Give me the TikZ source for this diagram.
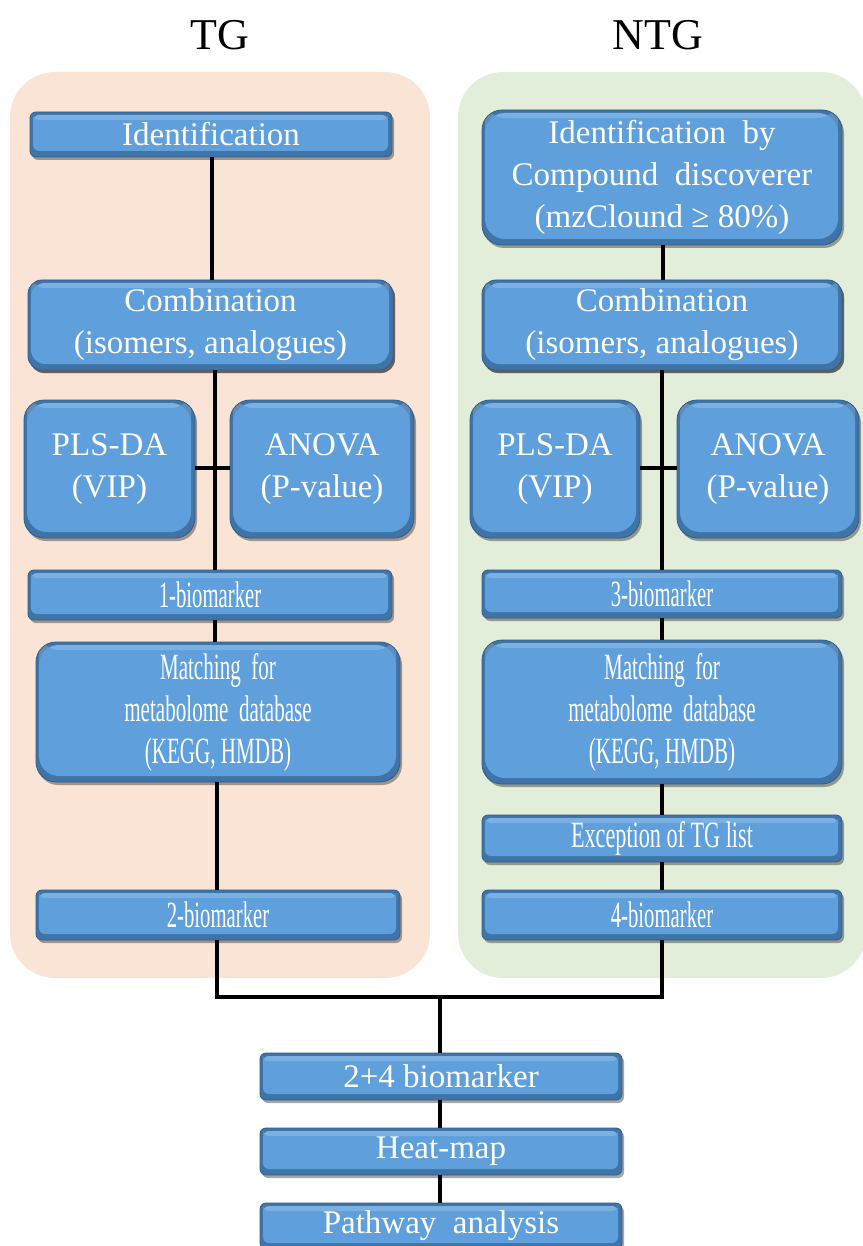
\documentclass[tikz,border=0pt]{standalone}
\usepackage{fontspec}
\setmainfont{Liberation Serif}
\usetikzlibrary{shadows}
\definecolor{peach}{HTML}{FAE4D6}
\definecolor{sage}{HTML}{E3EEDA}
\definecolor{boxblue}{HTML}{5FA0DC}
\definecolor{boxedge}{HTML}{3E74A8}
% condensed lettering used in several boxes
\newcommand{\squeeze}[2][0.56]{{\fontsize{37}{42}\selectfont\scalebox{#1}[1]{#2}}}
\tikzset{
  bevel/.style={
    rounded corners=#1, fill=boxedge, draw=boxedge!80!black, line width=0.8pt,
    drop shadow={shadow xshift=2pt, shadow yshift=-3pt, fill=black, opacity=0.35},
    text=white, align=center, inner sep=0pt,
    font=\fontsize{33}{42}\selectfont,
    path picture={
      \fill[boxblue, rounded corners=#1]
        ([shift={(3pt,-3pt)}]path picture bounding box.north west) rectangle
        ([shift={(-4pt,6pt)}]path picture bounding box.south east);
      \fill[white, opacity=0.18, rounded corners=#1]
        ([shift={(3pt,-3pt)}]path picture bounding box.north west) rectangle
        ([shift={(-4pt,-8pt)}]path picture bounding box.north east);
    }},
  bar/.style={bevel=6pt},
  block/.style={bevel=20pt},
  link/.style={line width=4.6pt, black},
  panel/.style={rounded corners=45pt, draw=none},
  heading/.style={font=\fontsize{44}{50}\selectfont, text=black}
}
\begin{document}
\begin{tikzpicture}[x=1pt, y=-1pt]
\useasboundingbox (0,0) rectangle (862,1246);

% group panels
\fill[peach, panel] (10,72) rectangle (430,978);
\fill[sage, panel] (458,72) rectangle (866,978);

\node[heading] (tg) at (220,35) {TG};
\node[heading] (ntg) at (658,35) {NTG};

% TG branch
\node[bar, minimum width=362pt, minimum height=45pt] (lid) at (211,134.5) {Identification};
\node[block, bevel=14pt, minimum width=365pt, minimum height=90pt] (lcomb) at (210.5,325) {Combination\\(isomers, analogues)};
\node[block, minimum width=171pt, minimum height=138pt] (lpls) at (109.5,469) {PLS-DA\\(VIP)};
\node[block, minimum width=184pt, minimum height=138pt] (lanova) at (322,469) {ANOVA\\(P-value)};
\node[bar, minimum width=364pt, minimum height=50pt] (lb1) at (210,595) {\squeeze{1-biomarker}};
\node[block, minimum width=364pt, minimum height=140pt] (lmatch) at (218,712) {\squeeze[0.57]{Matching\ \ for}\\\squeeze[0.57]{metabolome\ \ database}\\\squeeze[0.57]{(KEGG,\ HMDB)}};
\node[bar, minimum width=364pt, minimum height=50pt] (lb2) at (218,915) {\squeeze{2-biomarker}};

% NTG branch
\node[block, minimum width=360pt, minimum height=135pt] (rid) at (662,177.5) {Identification\ \ by\\Compound\ \ discoverer\\(mzClound ≥ 80\%)};
\node[block, bevel=14pt, minimum width=360pt, minimum height=90pt] (rcomb) at (662,325) {Combination\\(isomers, analogues)};
\node[block, minimum width=170pt, minimum height=138pt] (rpls) at (555,469) {PLS-DA\\(VIP)};
\node[block, minimum width=182pt, minimum height=138pt] (ranova) at (768,469) {ANOVA\\(P-value)};
\node[bar, minimum width=360pt, minimum height=48pt] (rb3) at (662,594) {\squeeze{3-biomarker}};
\node[block, minimum width=360pt, minimum height=144pt] (rmatch) at (662,712) {\squeeze[0.57]{Matching\ \ for}\\\squeeze[0.57]{metabolome\ \ database}\\\squeeze[0.57]{(KEGG,\ HMDB)}};
\node[bar, minimum width=360pt, minimum height=47pt] (rexc) at (662,838.5) {\squeeze[0.6]{Exception of TG list}};
\node[bar, minimum width=360pt, minimum height=50pt] (rb4) at (662,915) {\squeeze{4-biomarker}};

% merged steps
\node[bar, minimum width=362pt, minimum height=47pt] (b24) at (441,1076.5) {2+4 biomarker};
\node[bar, minimum width=362pt, minimum height=47pt] (heat) at (441,1151.5) {Heat-map};
\node[bar, minimum width=362pt, minimum height=46pt] (path) at (441,1226) {Pathway\ \ analysis};

% connectors, TG
\draw[link] (lid.south -| 212,0) -- (lcomb.north -| 212,0);
\draw[link] (lcomb.south -| 215,0) -- (lb1.north -| 215,0);
\draw[link] (lpls.east |- 0,468) -- (lanova.west |- 0,468);
\draw[link] (lb1.south -| 215,0) -- (lmatch.north -| 215,0);
\draw[link] (lmatch.south -| 217,0) -- (lb2.north -| 217,0);

% connectors, NTG
\draw[link] (rid.south -| 663,0) -- (rcomb.north -| 663,0);
\draw[link] (rcomb.south -| 662,0) -- (rb3.north -| 662,0);
\draw[link] (rpls.east |- 0,468) -- (ranova.west |- 0,468);
\draw[link] (rb3.south -| 662,0) -- (rmatch.north -| 662,0);
\draw[link] (rmatch.south -| 662,0) -- (rexc.north -| 662,0);
\draw[link] (rexc.south -| 662,0) -- (rb4.north -| 662,0);

% merge
\coordinate (join) at (440,997);
\draw[link] (lb2.south -| 217,0) |- (join) -| (rb4.south -| 662,0);
\draw[link] (join) -- (b24.north -| join);
\draw[link] (b24.south -| 440,0) -- (heat.north -| 440,0);
\draw[link] (heat.south -| 440,0) -- (path.north -| 440,0);
\end{tikzpicture}
\end{document}
